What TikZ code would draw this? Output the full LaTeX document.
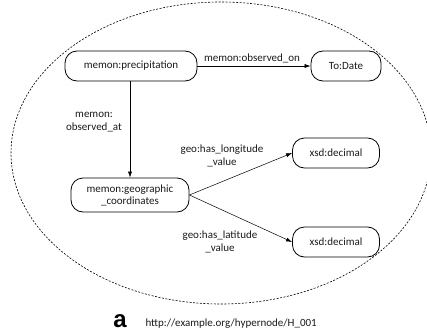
\documentclass[tikz,border=0pt]{standalone}
\usepackage{fontspec}
\setmainfont{Carlito}
\newfontfamily\capfont{Liberation Sans}
\usepackage{xcolor}
\usetikzlibrary{positioning, arrows.meta}
\definecolor{hn-line}{HTML}{000000}
\definecolor{hn-text}{HTML}{1A1A1A}

\tikzset{
    res/.style={draw=hn-line, line width=0.8pt, rounded corners=12pt,
        minimum height=30pt, align=center, font=\fontsize{11}{12}\selectfont, text=hn-text},
    lbl/.style={align=center, font=\fontsize{11}{13}\selectfont, text=hn-text},
    rel/.style={draw=hn-line, line width=0.5pt, -{Latex[length=6pt, width=4pt]}}
}

\begin{document}
\begin{tikzpicture}[x=1pt, y=-1pt]
        \useasboundingbox (0,0) rectangle (427,334);
        \clip (0,0) rectangle (427,334);
        % hypernode boundary
        \draw[hn-line, line width=0.6pt, dash pattern=on 2pt off 1.5pt]
            (221,153) ellipse [x radius=210, y radius=151];

        \node[res, minimum width=132pt] (prec) at (131,66) {memon:precipitation};
        \node[res, minimum width=70pt] (date) at (346,66) {To:Date};
        \node[res, minimum width=118pt, minimum height=34pt] (geo) at (130,195)
            {memon:geographic\\\_coordinates};
        \node[res, minimum width=87pt] (lon) at (336,153) {xsd:decimal};
        \node[res, minimum width=87pt] (lat) at (336,242) {xsd:decimal};

        \draw[rel] (prec) -- (date);
        \draw[rel] (prec.south -| geo.north) -- (geo.north);
        \draw[rel] (geo.east) -- (lon.west);
        \draw[rel] (geo.east) -- (lat.west);

        \node[lbl] (on) at (252,58) {memon:observed\_on};
        \node[lbl] (at) at (94,122) {memon:\\observed\_at};
        \node[lbl] (lonlbl) at (222,156) {geo:has\_longitude\\\_value};
        \node[lbl] (latlbl) at (220,242) {geo:has\_latitude\\\_value};

        % caption
        \node[font=\capfont\bfseries\fontsize{24}{24}\selectfont, anchor=base] (tag) at (120,327) {a};
        \node[font=\fontsize{11}{12}\selectfont, anchor=base west, text=hn-text] (uri) at (142,326)
            {http://example.org/hypernode/H\_001};
    \end{tikzpicture}
\end{document}
